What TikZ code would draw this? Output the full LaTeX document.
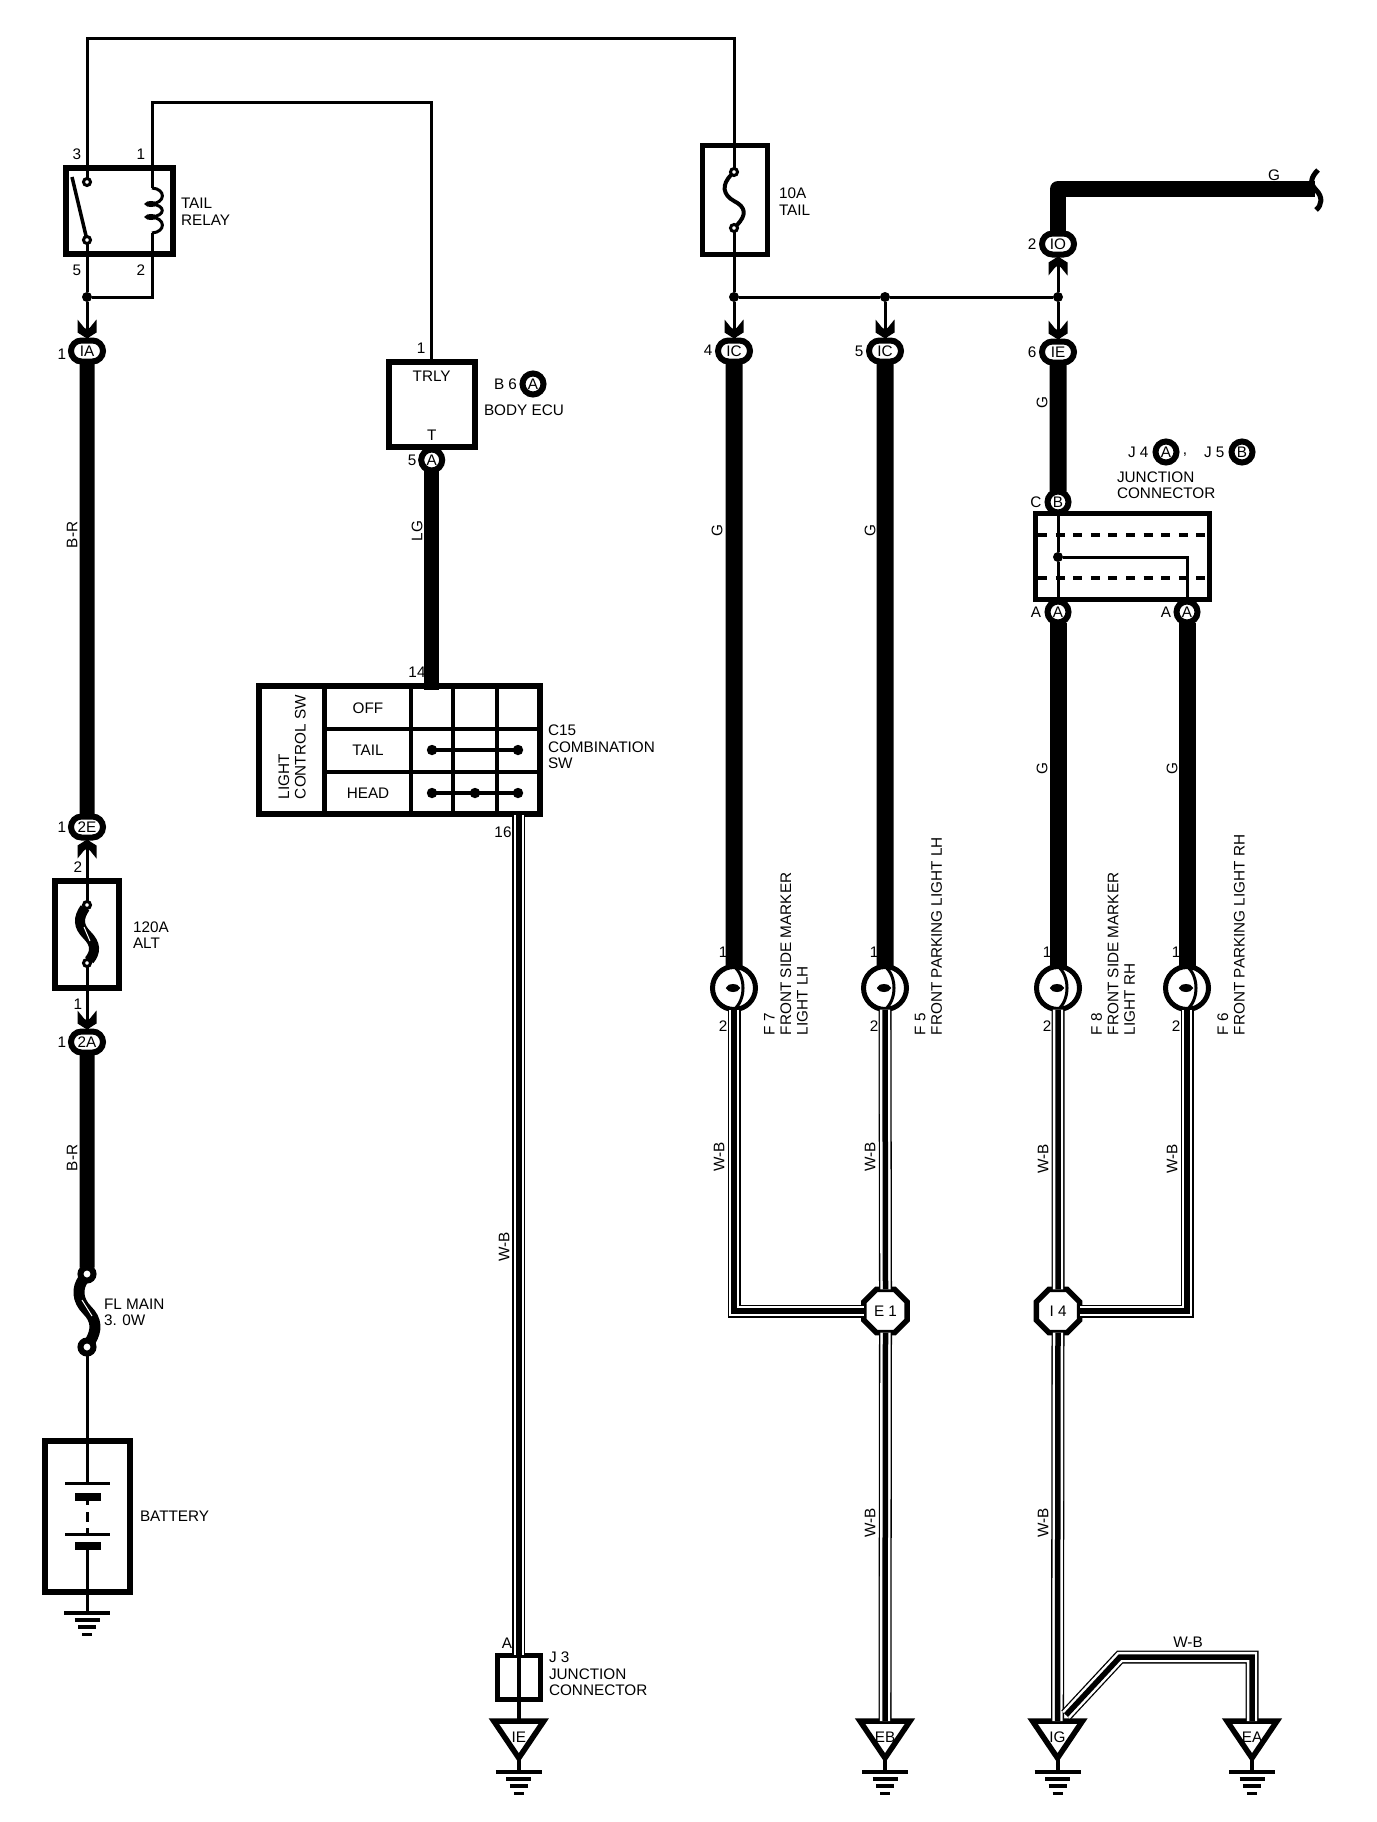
\documentclass[tikz,border=0pt]{standalone}
\usepackage{fontspec}
\setmainfont{Liberation Sans}
\usepackage{xcolor}
\usetikzlibrary{positioning,shapes.geometric,shapes.misc}

\begin{document}
\begin{tikzpicture}[x=1pt, y=-1pt,
    every node/.style={font=\fontsize{15.3pt}{16.5pt}\selectfont, inner sep=0pt, outer sep=0pt},
    wire/.style={line width=3pt},
    heavy/.style={line width=15pt},
    heavyr/.style={line width=17pt},
    wb/.style={line width=13pt, postaction={draw, white, line width=10.4pt}, postaction={draw, black, line width=5.5pt}},
    boxnode/.style={rectangle, draw, line width=5.5pt},
    oval/.style={rounded rectangle, draw, fill=white, line width=6pt, minimum width=32pt, minimum height=21pt},
    roundnode/.style={circle, draw, fill=white, line width=6pt, minimum size=21pt},
    octnode/.style={regular polygon, regular polygon sides=8, draw, fill=white, line width=5.5pt, minimum size=47pt},
    bulbnode/.style={circle, draw, line width=5pt, minimum size=43pt},
    filnode/.style={ellipse, draw, fill=white, line width=4pt, minimum width=9pt, minimum height=4pt},
    dotnode/.style={circle, fill=black, minimum size=10pt},
    contact/.style={circle, draw, fill=white, line width=3pt, minimum size=7pt},
    contactbig/.style={circle, draw, fill=white, line width=6pt, minimum size=13pt},
    swdot/.style={circle, draw, fill=white, line width=5pt, minimum size=5pt},
    gndnode/.style={isosceles triangle, shape border rotate=-90, isosceles triangle stretches, draw, line width=5.5pt, minimum width=50pt, minimum height=37pt, anchor=apex},
    lbl/.style={anchor=west, align=left},
    vlbl/.style={rotate=90},
    vleft/.style={rotate=90, anchor=west, align=left},
    pindown/.pic={
        \fill (-9.5,-21) -- (-9.5,-8) -- (0,-2) -- (9.5,-8) -- (9.5,-21) -- (3,-13) -- (0,-11) -- (-3,-13) -- cycle;
    },
    earth/.pic={
        \draw[line width=4pt] (-23,0) -- (23,0);
        \draw[line width=4.5pt] (-12.5,7) -- (12.5,7);
        \draw[line width=3.5pt] (-9,14) -- (9,14);
        \draw[line width=3pt] (-5,21) -- (5,21);
    }]

\useasboundingbox (0,0) rectangle (1376,1822);

\node[boxnode, minimum width=107pt, minimum height=86pt] at (119.7,211) (relay) {};
\node[contact] at (87,182) (k3) {};
\node[contact] at (87,240) (k5) {};
\node[dotnode] at (87,297) (jRelay) {};
\node[oval] at (87,351) (cIA) {IA};
\node[oval] at (87,827) (c2E) {2E};
\node[oval] at (87,1042) (c2A) {2A};
\node[boxnode, minimum width=64pt, minimum height=107pt] at (87,934.5) (f120) {};
\node[contact] at (87,905) (f120t) {};
\node[contact] at (87,963) (f120b) {};
\node[contactbig] at (87,1274) (fMaint) {};
\node[contactbig] at (87,1347) (fMainb) {};
\node[boxnode, line width=6pt, minimum width=84.4pt, minimum height=151.3pt] at (87.5,1516.3) (batt) {};
\node[boxnode, line width=5pt, minimum width=65pt, minimum height=109pt] at (734.5,199.7) (f10) {};
\node[contact] at (734,172) (f10t) {};
\node[contact] at (734,228) (f10b) {};
\coordinate (topl) at (87,38.5);
\coordinate (topr) at (734,38.5);
\coordinate (ecul) at (152,103);
\coordinate (ecur) at (431.7,103);
\coordinate (coilt) at (152,188);
\coordinate (coilb) at (152,233);
\coordinate (coild) at (152,297);
\coordinate (arm) at (72,177);

\draw[wire] (k3) -- (topl) -- (topr) -- (f10t);
\draw[line width=3.5pt] (arm) -- (k5);
\draw[wire] (k5) -- (jRelay);
\draw[wire] (coilb) -- (coild) -- (jRelay);
\draw[wire] (jRelay) -- (cIA);
\pic at (cIA.north) {pindown};
\draw[heavy] (cIA) -- (c2E);
\draw[wire] (f120t) -- (c2E);
\pic[yscale=-1] at (c2E.south) {pindown};
\draw[wire] (f120b) -- (c2A);
\pic at (c2A.north) {pindown};
\draw[heavy] (c2A) -- (fMaint);
\draw[line width=10pt] (f120t) .. controls (78,918) and (78,926) .. (87,935) .. controls (96,944) and (96,952) .. (f120b);
\draw[white, line width=1pt] (84,927) -- (90,941);
\draw[line width=11pt] (fMaint) .. controls (77,1288) and (77,1300) .. (87,1310) .. controls (97,1320) and (97,1330) .. (fMainb);
\draw[white, line width=1pt] (82,1300) -- (92,1316);
\draw[line width=4pt] (f10t) .. controls (721,185) and (723,195) .. (734,201) .. controls (746,207) and (747,215) .. (f10b);

\draw[wire] (coilt) -- (152,167);
\draw[line width=3pt] (coilt) .. controls (166,189) and (166,203) .. (151,204);
\draw[line width=3pt] (151,204) .. controls (166,205) and (166,216) .. (151,217);
\draw[line width=3pt] (151,217) .. controls (166,218) and (166,232) .. (coilb);
\node[filnode, line width=3pt, minimum width=9pt, minimum height=3pt] at (151,204) (coil1) {};
\node[filnode, line width=3pt, minimum width=9pt, minimum height=3pt] at (151,217) (coil2) {};

\node[boxnode, line width=6pt, minimum width=86pt, minimum height=85pt] at (431.7,404.7) (ecu) {};
\draw[wire] (ecu.north) -- (ecur) -- (ecul) -- (coilt);
\node[roundnode] at (431.7,460) (cEcu) {A};
\node at (431.7,376) (tTrly) {TRLY};
\node at (431.7,435) (tT) {T};
\node[boxnode, line width=6pt, minimum width=280.7pt, minimum height=128pt] at (399.3,750) (sw) {};
\draw[heavy] (cEcu) -- (431.7,690) coordinate (swin);
\draw[line width=5pt] (324,686) -- (324,814);
\draw[line width=3.5pt] (411,686) -- (411,814);
\draw[line width=3.5pt] (453,686) -- (453,814);
\draw[line width=3.5pt] (497,686) -- (497,814);
\draw[line width=4pt] (324,729) -- (540,729);
\draw[line width=4pt] (324,772) -- (540,772);
\node[swdot] at (432,750) (swT1) {};
\node[swdot] at (518,750) (swT2) {};
\node[swdot] at (432,793) (swH1) {};
\node[swdot] at (475,793) (swH2) {};
\node[swdot] at (518,793) (swH3) {};
\draw[line width=4pt] (swT1) -- (swT2);
\draw[line width=4pt] (swH1) -- (swH2);
\draw[line width=4pt] (swH2) -- (swH3);
\node at (368,708) (tOff) {OFF};
\node at (368,750) (tTail) {TAIL};
\node at (368,793) (tHead) {HEAD};
\node[vleft] at (292,799) (tLight) {LIGHT\\CONTROL SW};

\node[boxnode, line width=5pt, minimum width=43.5pt, minimum height=44pt] at (518.8,1677) (j3) {};
\node[gndnode] at (518.8,1758) (gIE) {};
\coordinate (eIE) at (518.8,1772);
\coordinate (swout) at (518.8,815);
\draw[wb] (swout) -- (j3.north);
\draw[line width=4pt] (j3.north) -- (j3.south);
\draw[line width=4pt] (j3.south) -- (gIE.north);
\draw[line width=4pt] (gIE.apex) -- (eIE);
\pic at (eIE) {earth};
\node at (518.8,1737) (tIE) {IE};

\node[dotnode] at (734,297) (jF7) {};
\node[dotnode] at (885,297) (jF5) {};
\node[dotnode] at (1058,297) (jF8) {};
\node[oval] at (734,351) (cF7) {IC};
\node[oval] at (885,351) (cF5) {IC};
\node[oval] at (1058,352) (cF8) {IE};
\node[oval] at (1058,244) (cIO) {IO};
\draw[wire] (f10b) -- (jF7);
\draw[wire] (jF7) -- (jF5);
\draw[wire] (jF5) -- (jF8);
\draw[wire] (jF7) -- (cF7);
\draw[wire] (jF5) -- (cF5);
\draw[wire] (jF8) -- (cF8);
\draw[wire] (jF8) -- (cIO);
\pic at (cF7.north) {pindown};
\pic at (cF5.north) {pindown};
\pic at (cF8.north) {pindown};
\pic[yscale=-1] at (cIO.south) {pindown};
\coordinate (gBend) at (1058,189);
\coordinate (gEnd) at (1315,189);
\draw[line width=16pt, line join=round] (cIO) -- (gBend) -- (gEnd);
\draw[line width=5pt] (1318,170) .. controls (1310,178) and (1310,184) .. (1316,190) .. controls (1323,197) and (1322,205) .. (1316,210);

\node[roundnode] at (1058,502) (cJB) {B};
\node[boxnode, line width=5pt, minimum width=173.7pt, minimum height=86pt] at (1122.3,556) (jbox) {};
\node[roundnode] at (1058,612) (cJA1) {A};
\node[roundnode] at (1187,612) (cJA2) {A};
\node[dotnode] at (1058,557) (jJ) {};
\coordinate (jBend) at (1187,557);
\coordinate (d1l) at (1038,535);
\coordinate (d1r) at (1209,535);
\coordinate (d2l) at (1038,578);
\coordinate (d2r) at (1209,578);
\draw[line width=4pt, dash pattern=on 9pt off 8.6pt] (d1l) -- (d1r);
\draw[line width=4pt, dash pattern=on 9pt off 8.6pt] (d2l) -- (d2r);
\draw[wire] (cJB) -- (jJ);
\draw[wire] (jJ) -- (cJA1);
\draw[wire] (jJ) -- (jBend) -- (cJA2);
\draw[heavyr] (cF8) -- (cJB);

\node[bulbnode] at (734,988) (bF7) {};
\node[bulbnode] at (885,988) (bF5) {};
\node[bulbnode] at (1058,988) (bF8) {};
\node[bulbnode] at (1187,988) (bF6) {};
\draw[heavyr] (cF7) -- (bF7);
\draw[heavyr] (cF5) -- (bF5);
\draw[heavyr] (cJA1) -- (bF8);
\draw[heavyr] (cJA2) -- (bF6);
\draw[wire] (bF7.north) .. controls (746,976) and (746,1000) .. (bF7.south);
\draw[wire] (bF5.north) .. controls (897,976) and (897,1000) .. (bF5.south);
\draw[wire] (bF8.north) .. controls (1070,976) and (1070,1000) .. (bF8.south);
\draw[wire] (bF6.north) .. controls (1199,976) and (1199,1000) .. (bF6.south);
\node[filnode] at (733,988) (fF7) {};
\node[filnode] at (884,988) (fF5) {};
\node[filnode] at (1057,988) (fF8) {};
\node[filnode] at (1186,988) (fF6) {};

\node[octnode] at (885.5,1311) (oE1) {E 1};
\node[octnode] at (1058,1311) (oI4) {I 4};
\node[gndnode] at (885,1758) (gEB) {};
\node[gndnode] at (1057.5,1758) (gIG) {};
\node[gndnode] at (1252,1758) (gEA) {};
\coordinate (eEB) at (885,1772);
\coordinate (eIG) at (1057.5,1772);
\coordinate (eEA) at (1252,1772);
\coordinate (brIG) at (1066,1715);
\coordinate (brA) at (1120,1657);
\coordinate (brB) at (1252,1657);
\draw[wb] (bF7.south) |- (oE1.west);
\draw[wb] (bF5.south) -- (oE1.north);
\draw[wb] (bF8.south) -- (oI4.north);
\draw[wb] (bF6.south) |- (oI4.east);
\draw[wb] (oE1.south) -- (gEB.north);
\draw[wb] (oI4.south) -- (gIG.north);
\draw[wb] (brIG) -- (brA) -- (brB) -- (gEA.north);
\draw[line width=4pt] (gEB.apex) -- (eEB);
\draw[line width=4pt] (gIG.apex) -- (eIG);
\draw[line width=4pt] (gEA.apex) -- (eEA);
\pic at (eEB) {earth};
\pic at (eIG) {earth};
\pic at (eEA) {earth};
\node at (885,1737) (tEB) {EB};
\node at (1057.5,1737) (tIG) {IG};
\node at (1252,1737) (tEA) {EA};

\draw[line width=3pt] (65,1483) -- (110,1483);
\draw[line width=8pt] (75,1497) -- (101,1497);
\draw[line width=3pt] (65,1534) -- (110,1534);
\draw[line width=8pt] (75,1546) -- (101,1546);
\coordinate (pA) at (87,1483);
\coordinate (pB) at (87,1497);
\coordinate (pC) at (87,1505);
\coordinate (pD) at (87,1512);
\coordinate (pE) at (87,1522);
\coordinate (pF) at (87,1528);
\coordinate (pG) at (87,1534);
\coordinate (pH) at (87,1546);
\coordinate (eBatt) at (87,1613);
\draw[wire] (fMainb) -- (pA);
\draw[wire] (pB) -- (pC);
\draw[wire] (pD) -- (pE);
\draw[wire] (pF) -- (pG);
\draw[wire] (pH) -- (eBatt);
\pic at (eBatt) {earth};

\node at (77,154) (p3) {3};
\node at (141,154) (p1) {1};
\node at (77,270) (p5) {5};
\node at (141,270) (p2) {2};
\node at (62,354) (pIA) {1};
\node[lbl] at (181,211.5) (tRelay) {TAIL\\RELAY};
\node at (62,827) (p2E) {1};
\node at (78,867) (pf2) {2};
\node at (78,1004) (pf1) {1};
\node at (62,1042) (p2A) {1};
\node[lbl] at (133,935) (t120) {120A\\ALT};
\node[lbl] at (104,1312.5) (tMain) {FL MAIN\\3. 0W};
\node[lbl] at (140,1516) (tBatt) {BATTERY};
\node[vlbl] at (72,535) (wBR1) {B-R};
\node[vlbl] at (72,1158) (wBR2) {B-R};
\node at (421,348) (pTr) {1};
\node at (412,460) (pTl) {5};
\node[lbl] at (494,384) (tB6) {B 6};
\node[roundnode] at (533,384) (mA) {A};
\node[lbl] at (484,410) (tBody) {BODY ECU};
\node[vlbl] at (417,531) (wLG) {LG};
\node at (417,672) (p14) {14};
\node at (503,832) (p16) {16};
\node[lbl] at (548,747) (tC15) {C15\\COMBINATION\\SW};
\node[vlbl] at (504,1247) (wWB1) {W-B};
\node at (507,1643) (pJ3) {A};
\node[lbl] at (549,1674) (tJ3) {J 3\\JUNCTION\\CONNECTOR};
\node[lbl] at (779,201.5) (t10) {10A\\TAIL};
\node at (708,350) (p4) {4};
\node at (859,351) (p5b) {5};
\node at (1032,352) (p6) {6};
\node at (1032,244) (p2b) {2};
\node at (1274,175) (wG1) {G};
\node[vlbl] at (1042,403) (wG2) {G};
\node[vlbl] at (717,531) (wG3) {G};
\node[vlbl] at (870,531) (wG4) {G};
\node[vlbl] at (1042,769) (wG5) {G};
\node[vlbl] at (1172,769) (wG6) {G};
\node at (1036,502) (pCc) {C};
\node at (1036,612) (pAa) {A};
\node at (1166,612) (pAb) {A};
\node[lbl] at (1128,452) (tJ4) {J 4};
\node[roundnode] at (1166,452) (mJA) {A};
\node at (1185,455) (tComma) {,};
\node[lbl] at (1204,452) (tJ5) {J 5};
\node[roundnode] at (1242,452) (mJB) {B};
\node[lbl] at (1117,485) (tJct) {JUNCTION\\CONNECTOR};
\node at (723,952) (bp1a) {1};
\node at (723,1026) (bp2a) {2};
\node at (874,952) (bp1b) {1};
\node at (874,1026) (bp2b) {2};
\node at (1047,952) (bp1c) {1};
\node at (1047,1026) (bp2c) {2};
\node at (1176,952) (bp1d) {1};
\node at (1176,1026) (bp2d) {2};
\node[vleft] at (786,1035) (tF7) {F 7\\FRONT SIDE MARKER\\LIGHT LH};
\node[vleft] at (928.5,1035) (tF5) {F 5\\FRONT PARKING LIGHT LH};
\node[vleft] at (1113,1035) (tF8) {F 8\\FRONT SIDE MARKER\\LIGHT RH};
\node[vleft] at (1231,1035) (tF6) {F 6\\FRONT PARKING LIGHT RH};
\node[vlbl] at (719,1157) (wWB2) {W-B};
\node[vlbl] at (870,1157) (wWB3) {W-B};
\node[vlbl] at (1043,1159) (wWB4) {W-B};
\node[vlbl] at (1172,1159) (wWB5) {W-B};
\node[vlbl] at (870,1523) (wWB6) {W-B};
\node[vlbl] at (1043,1523) (wWB7) {W-B};
\node at (1188,1642) (wWB8) {W-B};

\end{tikzpicture}
\end{document}
